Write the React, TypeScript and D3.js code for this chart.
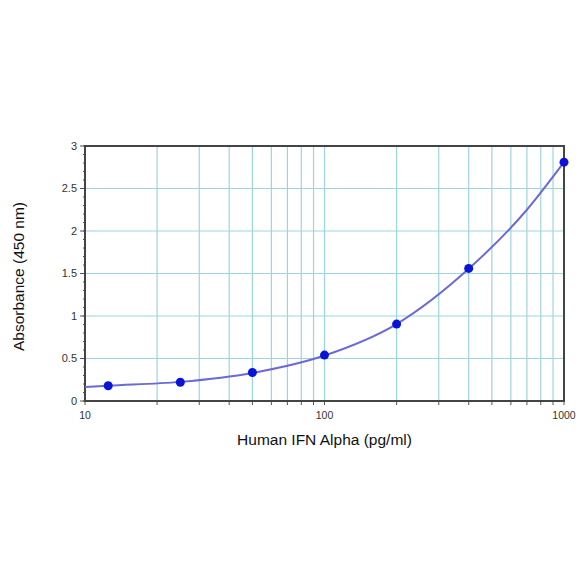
import React from "react";
import * as d3 from "d3";

const concentrations = [12.5, 25, 50, 100, 200, 400, 1000];
const absorbance = [0.18, 0.22, 0.335, 0.54, 0.905, 1.56, 2.81];
const curveX = [10, 12.5, 25, 50, 100, 200, 400, 700, 1000];
const curveY = [0.165, 0.18, 0.225, 0.33, 0.535, 0.905, 1.555, 2.25, 2.81];
const yTicks = [0, 0.5, 1, 1.5, 2, 2.5, 3];
const yTickLabels = ["0", "0.5", "1", "1.5", "2", "2.5", "3"];
const xTickLabels = [10, 100, 1000];
const xGrid = [20, 30, 40, 50, 60, 70, 80, 90, 100, 200, 300, 400, 500, 600, 700, 800, 900];

export default function App() {
  const W = 584, H = 584;
  const left = 85, right = 564, top = 146, bottom = 401;
  const x = d3.scaleLog().domain([10, 1000]).range([left, right]);
  const y = d3.scaleLinear().domain([0, 3]).range([bottom, top]);
  const line = d3
    .line<number>()
    .x((_, i) => x(curveX[i]))
    .y((d) => y(d))
    .curve(d3.curveMonotoneX);
  const minorY = d3.range(0, 31).map((v) => v / 10);
  const font = "Helvetica, Arial, 'Liberation Sans', sans-serif";
  return (
    <svg width={W} height={H} style={{ position: "absolute", left: 0, top: 0 }}>
      <rect width={W} height={H} fill="#fff" />
      {xGrid.map((v) => (
        <line key={"gx" + v} x1={x(v)} x2={x(v)} y1={top} y2={bottom} stroke="#9dd5de" strokeWidth={1.2} />
      ))}
      {yTicks.slice(1, -1).map((v) => (
        <line key={"gy" + v} x1={left} x2={right} y1={y(v)} y2={y(v)} stroke="#9dd5de" strokeWidth={1.2} />
      ))}
      {minorY.map((v) => (
        <line key={"my" + v} x1={left - 2} x2={left} y1={y(v)} y2={y(v)} stroke="#555" strokeWidth={1} />
      ))}
      {yTicks.map((v, i) => (
        <g key={"yt" + v}>
          <line x1={left - 5} x2={left} y1={y(v)} y2={y(v)} stroke="#555" strokeWidth={1} />
          <text x={left - 8} y={y(v)} dy="0.35em" textAnchor="end" fontSize={11} fill="#333" fontFamily={font}>
            {yTickLabels[i]}
          </text>
        </g>
      ))}
      {xGrid.concat([10, 1000]).map((v) => (
        <line key={"xt" + v} x1={x(v)} x2={x(v)} y1={bottom} y2={bottom + 4} stroke="#555" strokeWidth={1} />
      ))}
      {xTickLabels.map((v) => (
        <text key={"xl" + v} x={x(v)} y={bottom + 18} textAnchor="middle" fontSize={10.5} fill="#333" fontFamily={font}>
          {v}
        </text>
      ))}
      <rect x={left} y={top} width={right - left} height={bottom - top} fill="none" stroke="#444" strokeWidth={2} />
      <path d={line(curveY) || ""} fill="none" stroke="#6a6ad6" strokeWidth={2} />
      {concentrations.map((c, i) => (
        <circle key={"p" + c} cx={x(c)} cy={y(absorbance[i])} r={4.5} fill="#0a14d8" />
      ))}
      <text x={(left + right) / 2} y={445} textAnchor="middle" fontSize={15.5} fill="#111" fontFamily={font}>
        Human IFN Alpha (pg/ml)
      </text>
      <text
        transform={`translate(24, ${(top + bottom) / 2 + 3}) rotate(-90)`}
        textAnchor="middle"
        fontSize={15.5}
        fill="#111"
        fontFamily={font}
      >
        Absorbance (450 nm)
      </text>
    </svg>
  );
}
